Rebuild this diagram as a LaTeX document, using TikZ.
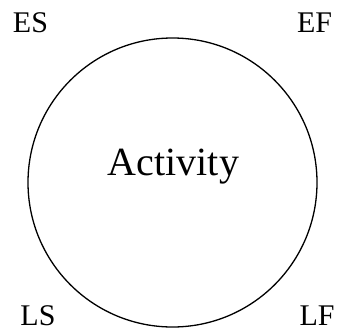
\documentclass[tikz,border=0pt]{standalone}
\usepackage{fontspec}
\setmainfont{Liberation Serif}
\begin{document}
\begin{tikzpicture}[x=1pt,y=1pt,
  corner/.style={anchor=base,inner sep=0pt,text depth=0pt,font=\fontsize{30}{36}\selectfont},
  act/.style={circle,draw,line width=1.3pt,minimum size=289pt,inner sep=0pt}]
\useasboundingbox (0,0) rectangle (339,330);
\node[act] (c) at (172.5,147.5) {};
\node[anchor=base,inner sep=0pt,font=\fontsize{40}{48}\selectfont] (t) at (173.5,155) {Activity};
\node[corner] (es) at (30.5,297) {ES};
\node[corner] (ef) at (314.5,297) {EF};
\node[corner] (ls) at (38,5) {LS};
\node[corner] (lf) at (317,5) {LF};
\end{tikzpicture}
\end{document}
